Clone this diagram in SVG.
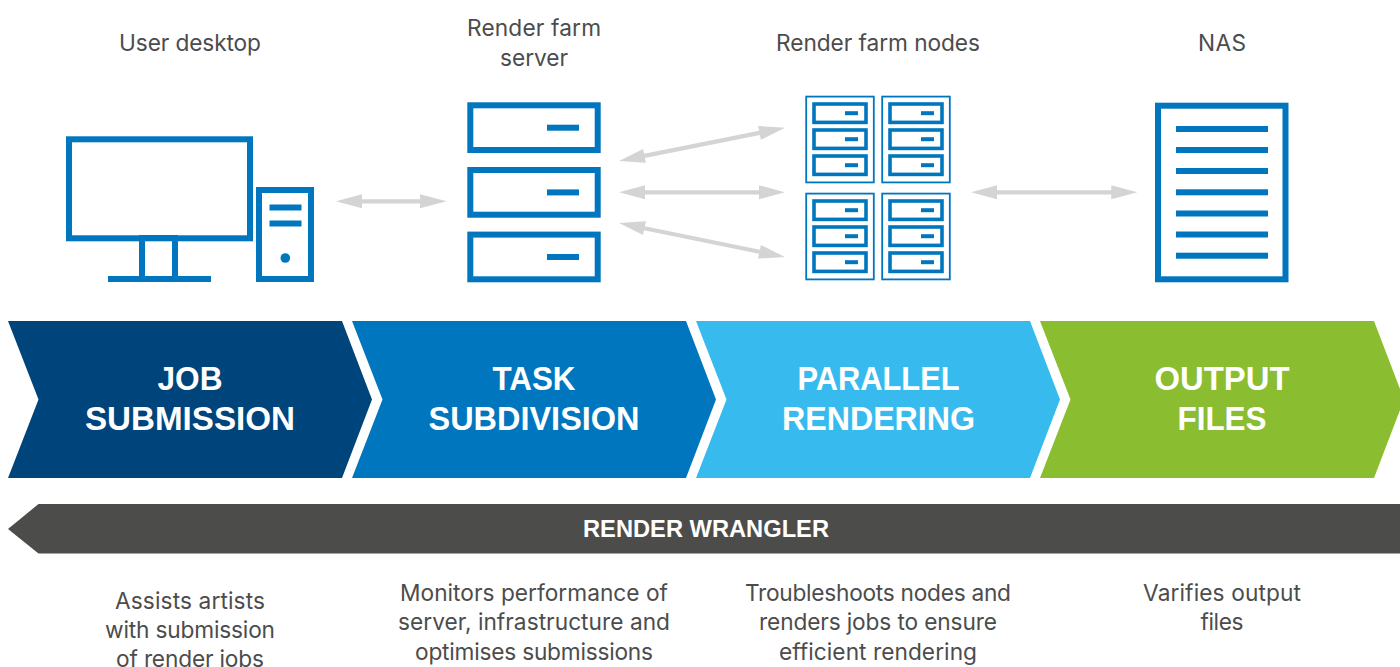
<svg xmlns="http://www.w3.org/2000/svg" width="1400" height="667" viewBox="0 0 1400 667">
<style>
text{font-family:Inter,"Liberation Sans",sans-serif;text-anchor:middle}
.lb{font-size:22.7px;fill:#4C4C4C}
.hd{font-family:"Liberation Sans",Arial,sans-serif;font-size:33px;font-weight:700;fill:#fff}
.o{fill:none;stroke:#0076BF;stroke-width:6}
.t{fill:none;stroke:#0076BF;stroke-width:3.6}
.th{fill:none;stroke:#0076BF;stroke-width:1.8}
.f{fill:#0076BF}
.ar{fill:#D4D4D4}
</style>
<defs>
<g id="srv"><rect class="o" x="470.300" y="0" width="127.400" height="44.700"/><rect class="f" x="547" y="19.400" width="32" height="6"/></g>
<g id="mini"><rect class="t" x="814" y="0" width="52" height="18.400"/><rect class="f" x="845" y="7.200" width="13" height="4"/></g>
<g id="rack"><rect class="th" x="806.200" y="96.600" width="67.600" height="85.800"/><use href="#mini" y="104"/><use href="#mini" y="130"/><use href="#mini" y="156"/></g>
</defs>
<g id="desktop-label"><text class="lb" x="190" y="51" textLength="142">User desktop</text></g>
<g id="server-label"><text class="lb" x="534" y="36" textLength="134">Render farm</text><text class="lb" x="534" y="66" textLength="68">server</text></g>
<g id="nodes-label"><text class="lb" x="878" y="51" textLength="204">Render farm nodes</text></g>
<g id="nas-label"><text class="lb" x="1222" y="51" textLength="48">NAS</text></g>

<g id="user-desktop">
<rect class="o" x="69" y="139.300" width="181" height="99"/>
<rect class="o" x="142" y="238" width="33" height="41"/>
<rect class="f" x="108" y="276" width="103" height="6"/>
<rect class="o" x="259" y="190" width="52" height="89"/>
<rect class="f" x="269.500" y="204.500" width="32" height="6"/>
<rect class="f" x="269.500" y="220.500" width="32" height="6"/>
<circle class="f" cx="285.300" cy="258" r="4.800"/>
</g>
<g id="render-farm-server">
<use href="#srv" y="105.300"/><use href="#srv" y="170"/><use href="#srv" y="234.600"/>
</g>
<g id="render-farm-nodes">
<use href="#rack"/><use href="#rack" x="76"/><use href="#rack" y="97"/><use href="#rack" x="76" y="97"/>
</g>
<g id="nas">
<rect class="o" x="1158" y="105.700" width="127.500" height="173.600"/>
<g class="f">
<rect x="1176" y="126" width="92" height="6"/><rect x="1176" y="147" width="92" height="6"/><rect x="1176" y="168" width="92" height="6"/><rect x="1176" y="189.300" width="92" height="6"/><rect x="1176" y="210.500" width="92" height="6"/><rect x="1176" y="231.500" width="92" height="6"/><rect x="1176" y="252.700" width="92" height="6"/>
</g>
</g>
<g id="connectors">
<path class="ar" d="M0 0L26 -7V-2.100H84V-7L110.700 0L84 7V2.100H26V7Z" transform="translate(336 201.300)"/>
<path class="ar" d="M0 0L26 -7V-2.100H143.300V-7L169.300 0L143.300 7V2.100H26V7Z" transform="translate(619 161) rotate(-11.340)"/>
<path class="ar" d="M0 0L26 -7V-2.100H140V-7L166 0L140 7V2.100H26V7Z" transform="translate(619 192.300)"/>
<path class="ar" d="M0 0L26 -7V-2.100H143.400V-7L169.400 0L143.400 7V2.100H26V7Z" transform="translate(619 223) rotate(11.570)"/>
<path class="ar" d="M0 0L26 -7V-2.100H140.300V-7L166.300 0L140.300 7V2.100H26V7Z" transform="translate(971 192.300)"/>
</g>
<g id="job-submission"><polygon points="8,321 342,321 372,399.500 342,478 8,478 38.500,399.500" fill="#00447C"/><text class="hd" x="190" y="390" textLength="65" lengthAdjust="spacingAndGlyphs">JOB</text><text class="hd" x="190" y="430" textLength="210" lengthAdjust="spacingAndGlyphs">SUBMISSION</text></g>
<g id="task-subdivision"><polygon points="352,321 686,321 716,399.500 686,478 352,478 382.500,399.500" fill="#0076BF"/><text class="hd" x="534" y="390" textLength="83" lengthAdjust="spacingAndGlyphs">TASK</text><text class="hd" x="534" y="430" textLength="211" lengthAdjust="spacingAndGlyphs">SUBDIVISION</text></g>
<g id="parallel-rendering"><polygon points="696,321 1030,321 1060,399.500 1030,478 696,478 726.500,399.500" fill="#37BBEF"/><text class="hd" x="878.500" y="390" textLength="162" lengthAdjust="spacingAndGlyphs">PARALLEL</text><text class="hd" x="878.500" y="430" textLength="193" lengthAdjust="spacingAndGlyphs">RENDERING</text></g>
<g id="output-files"><polygon points="1040,321 1374,321 1404,399.500 1374,478 1040,478 1070.500,399.500" fill="#8ABD2F"/><text class="hd" x="1222" y="390" textLength="135" lengthAdjust="spacingAndGlyphs">OUTPUT</text><text class="hd" x="1222" y="430" textLength="89" lengthAdjust="spacingAndGlyphs">FILES</text></g>
<g id="render-wrangler"><polygon points="8,529 38.500,504 1400,504 1400,553.500 38.500,553.500" fill="#4C4C4A"/><text x="706" y="537" style="font-family:'Liberation Sans',Arial,sans-serif" font-size="24" font-weight="700" fill="#fff" textLength="246" lengthAdjust="spacingAndGlyphs">RENDER WRANGLER</text></g>
<g id="desc-1"><text class="lb" x="190" y="609" textLength="150">Assists artists</text><text class="lb" x="190" y="638" textLength="170">with submission</text><text class="lb" x="190" y="667" textLength="148">of render jobs</text></g>
<g id="desc-2"><text class="lb" x="534" y="601" textLength="268">Monitors performance of</text><text class="lb" x="534" y="630" textLength="272">server, infrastructure and</text><text class="lb" x="534" y="660" textLength="238">optimises submissions</text></g>
<g id="desc-3"><text class="lb" x="878" y="601" textLength="266">Troubleshoots nodes and</text><text class="lb" x="878" y="630" textLength="238">renders jobs to ensure</text><text class="lb" x="878" y="660" textLength="198">efficient rendering</text></g>
<g id="desc-4"><text class="lb" x="1222" y="601" textLength="158">Varifies output</text><text class="lb" x="1222" y="630" textLength="43">files</text></g>
</svg>
